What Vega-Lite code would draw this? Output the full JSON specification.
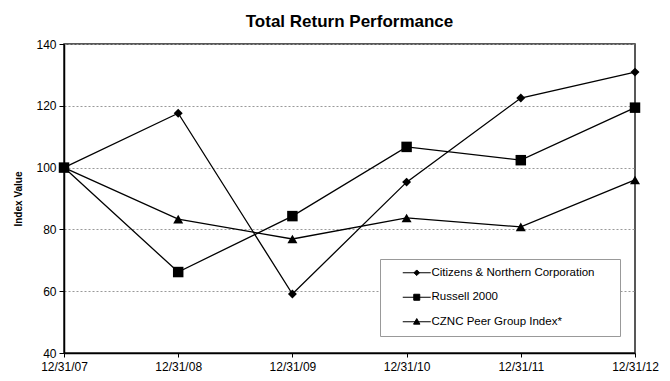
{
  "$schema": "https://vega.github.io/schema/vega-lite/v6.json",
  "width": 571,
  "height": 309,
  "autosize": {"type": "none"},
  "padding": {"left": 64, "top": 44, "right": 35, "bottom": 28},
  "background": "white",
  "title": {"text": "Total Return Performance", "fontSize": 17, "font": "Liberation Sans", "fontWeight": "bold", "color": "#000", "anchor": "middle", "offset": -6, "baseline": "alphabetic"},
  "data": {"values": [
    {"date": "12/31/07", "series": "Citizens & Northern Corporation", "value": 100},
    {"date": "12/31/08", "series": "Citizens & Northern Corporation", "value": 117.6},
    {"date": "12/31/09", "series": "Citizens & Northern Corporation", "value": 59.1},
    {"date": "12/31/10", "series": "Citizens & Northern Corporation", "value": 95.3},
    {"date": "12/31/11", "series": "Citizens & Northern Corporation", "value": 122.5},
    {"date": "12/31/12", "series": "Citizens & Northern Corporation", "value": 130.9},
    {"date": "12/31/07", "series": "Russell 2000", "value": 100},
    {"date": "12/31/08", "series": "Russell 2000", "value": 66.2},
    {"date": "12/31/09", "series": "Russell 2000", "value": 84.3},
    {"date": "12/31/10", "series": "Russell 2000", "value": 106.7},
    {"date": "12/31/11", "series": "Russell 2000", "value": 102.4},
    {"date": "12/31/12", "series": "Russell 2000", "value": 119.4},
    {"date": "12/31/07", "series": "CZNC Peer Group Index*", "value": 100},
    {"date": "12/31/08", "series": "CZNC Peer Group Index*", "value": 83.3},
    {"date": "12/31/09", "series": "CZNC Peer Group Index*", "value": 76.9},
    {"date": "12/31/10", "series": "CZNC Peer Group Index*", "value": 83.7},
    {"date": "12/31/11", "series": "CZNC Peer Group Index*", "value": 80.8},
    {"date": "12/31/12", "series": "CZNC Peer Group Index*", "value": 96.0}
  ]},
  "encoding": {
    "x": {"field": "date", "type": "ordinal", "sort": ["12/31/07", "12/31/08", "12/31/09", "12/31/10", "12/31/11", "12/31/12"],
      "scale": {"type": "point", "padding": 0},
      "axis": {"title": null, "labelAngle": 0, "labelFontSize": 12, "labelPadding": 4, "tickSize": 4, "grid": false, "labelFlush": false}},
    "y": {"field": "value", "type": "quantitative",
      "scale": {"domain": [40, 140], "nice": false, "zero": false},
      "axis": {"title": "Index Value", "values": [40, 60, 80, 100, 120, 140], "labelFontSize": 12, "labelPadding": 3, "tickSize": 5,
        "titleFontSize": 10, "titleFontWeight": "bold", "titlePadding": 12,
        "grid": true, "gridColor": "#999", "gridDash": [2, 2], "gridWidth": 1}}
  },
  "layer": [
    {"mark": {"type": "line", "strokeWidth": 1.3},
     "encoding": {
       "color": {"field": "series", "type": "nominal",
         "scale": {"domain": ["Citizens & Northern Corporation", "Russell 2000", "CZNC Peer Group Index*"], "range": ["#000000", "#000000", "#000000"]},
         "legend": {"orient": "none", "legendX": 316, "legendY": 215, "title": null, "padding": 8,
           "strokeColor": "#999", "fillColor": "white", "cornerRadius": 0, "symbolSize": 64,
           "symbolType": {"expr": "datum.value === 'Citizens & Northern Corporation' ? 'M54,0M2.25,0H9.25M5.75,-0.7L6.45,0L5.75,0.7L5.05,0Z' : datum.value === 'Russell 2000' ? 'M54,0M2.25,0H9.25M5,-0.75H6.5V0.75H5Z' : 'M54,0M2.25,0H9.25M5.75,-0.8L6.55,0.6H4.95Z'"},
           "symbolFillColor": "#000", "symbolStrokeColor": "#000", "symbolStrokeWidth": 1, "symbolOpacity": 1,
           "labelFontSize": 11.5, "labelFont": "Liberation Sans", "labelColor": "#000", "labelOffset": 32, "rowPadding": 11.5, "labelLimit": 300,
           "encode": {"symbols": {"update": {"fill": {"value": "#000"}, "stroke": {"value": "#000"}, "strokeWidth": {"value": 1}}}}}}
     }},
    {"transform": [{"filter": "datum.series === 'Citizens & Northern Corporation'"}],
     "mark": {"type": "point", "shape": "diamond", "filled": true, "color": "black", "opacity": 1, "size": 80}},
    {"transform": [{"filter": "datum.series === 'Russell 2000'"}],
     "mark": {"type": "point", "shape": "square", "filled": true, "color": "black", "opacity": 1, "size": 110}},
    {"transform": [{"filter": "datum.series === 'CZNC Peer Group Index*'"}],
     "mark": {"type": "point", "shape": "triangle-up", "filled": true, "color": "black", "opacity": 1, "size": 100}}
  ],
  "config": {
    "font": "Liberation Sans",
    "view": {"stroke": "#222", "strokeWidth": 1.5},
    "axis": {"domainColor": "#000", "domainWidth": 1.5, "tickColor": "#000", "labelColor": "#000", "titleColor": "#000", "labelFont": "Liberation Sans", "titleFont": "Liberation Sans"}
  }
}
